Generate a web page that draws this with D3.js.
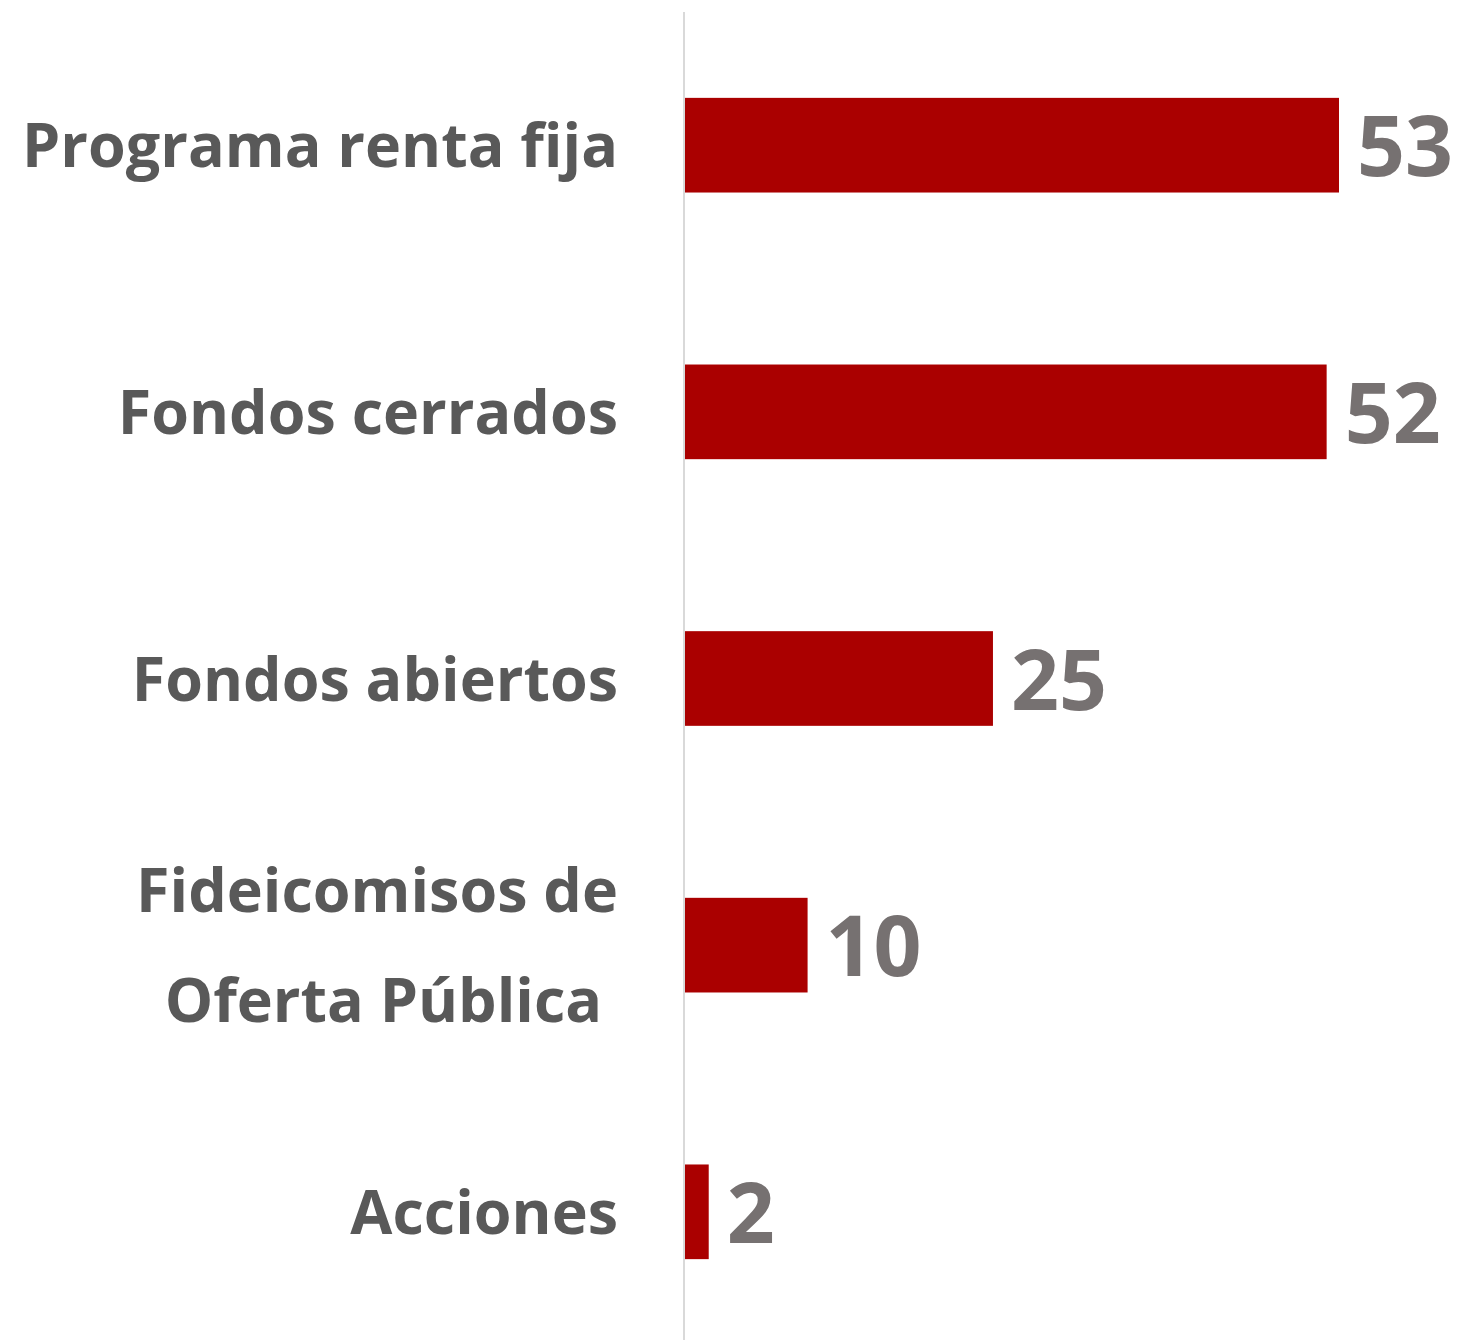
<!DOCTYPE html>
<html>
<head>
<meta charset="utf-8">
<script src="https://cdn.jsdelivr.net/npm/d3@7"></script>
<style>
  body { margin: 0; background: #ffffff; }
  text { white-space: pre; }
</style>
</head>
<body>
<div id="chart"></div>
<script>
// data
var categories = ['Programa renta fija', 'Fondos cerrados', 'Fondos abiertos', 'Fideicomisos de|Oferta Pública ', 'Acciones'];
var values = [53, 52, 25, 10, 2];

var chart_width = 1460;
var chart_height = 1340;
var axis_x = 684;

var svg = d3.select('#chart')
    .append('svg')
    .attr('width', chart_width)
    .attr('height', chart_height);

// y scale (categories)
var y_scale = d3.scaleBand()
    .domain(d3.range(categories.length))
    .range([12, 1345])
    .paddingInner(0.645)
    .paddingOuter(0.322);

// x scale
var x_scale = d3.scaleLinear()
    .domain([0, 53])
    .range([axis_x, 1339]);

// bars
svg.selectAll('rect.bar')
    .data(values)
    .enter()
    .append('rect')
    .attr('class', 'bar')
    .attr('x', x_scale(0))
    .attr('y', function (d, i) { return y_scale(i); })
    .attr('width', function (d) { return x_scale(d) - x_scale(0); })
    .attr('height', y_scale.bandwidth())
    .attr('fill', '#aa0000');

// axis line
svg.append('line')
    .attr('x1', axis_x).attr('x2', axis_x)
    .attr('y1', 12).attr('y2', chart_height)
    .attr('stroke', '#d9d9d9')
    .attr('stroke-width', 2);

// category labels
var labels = svg.selectAll('text.cat')
    .data(categories)
    .enter()
    .append('text')
    .attr('class', 'cat')
    .attr('text-anchor', 'end')
    .attr('font-family', '"Open Sans", sans-serif')
    .attr('font-weight', 700)
    .attr('font-size', 61)
    .attr('fill', '#595959');

labels.each(function (d, i) {
    var lines = d.split('|');
    var cy = y_scale(i) + y_scale.bandwidth() / 2;
    var line_gap = 110;
    var first = cy + 22 - (lines.length - 1) * line_gap / 2;
    var t = d3.select(this);
    lines.forEach(function (l, j) {
        t.append('tspan')
            .attr('x', 618)
            .attr('y', first + j * line_gap)
            .text(l);
    });
});

// value labels
svg.selectAll('text.val')
    .data(values)
    .enter()
    .append('text')
    .attr('class', 'val')
    .text(function (d) { return d; })
    .attr('x', function (d) { return x_scale(d) + 18; })
    .attr('y', function (d, i) { return y_scale(i) + y_scale.bandwidth() / 2 + 31; })
    .attr('font-family', '"Open Sans", sans-serif')
    .attr('font-weight', 700)
    .attr('font-size', 84)
    .attr('fill', '#767171');
</script>
</body>
</html>
